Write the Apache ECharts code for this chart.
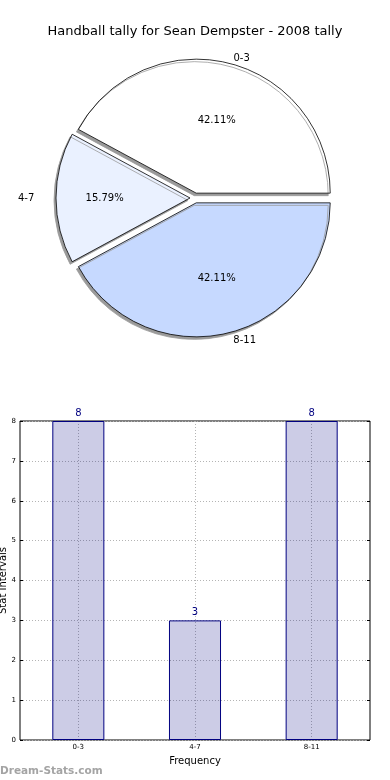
<!DOCTYPE html>
<html>
<head>
<meta charset="utf-8">
<script src="https://cdn.jsdelivr.net/npm/echarts@6/dist/echarts.min.js"></script>
<style>
html,body{margin:0;padding:0;background:#fff;}
#main{width:390px;height:780px;}
</style>
</head>
<body>
<div id="main"></div>
<script>
// ---- data ----
const titleText = 'Handball tally for Sean Dempster - 2008 tally';
const pieCategories = ['0-3', '4-7', '8-11'];
const pieValues = [8, 3, 8];
const barCategories = ['0-3', '4-7', '8-11'];
const barValues = [8, 3, 8];
const yAxisName = 'Stat Intervals';
const xAxisName = 'Frequency';
const watermark = 'Dream-Stats.com';

// ---- styles ----
const sliceColors = ['#ffffff', '#eaf1ff', '#c6d9ff'];
const font = 'DejaVu Sans';
const pieCenter = [195, 198];
const R = 134;
const explode = 5;
// label nudges (matplotlib draws an elliptical pie; names are left/right aligned)
const namePad = [[0, 0, 0, 17], [0, 27, 0, 0], [0, 0, 0, 23]];
const nameShiftY = [11, 0, -8];
const pctPad = [[0, 0, 0, 0], [0, 4, 0, 0], [0, 0, 0, 0]];
const pctShiftY = [8, 0, -5];

const chart = echarts.init(document.getElementById('main'), null, {renderer: 'canvas'});

const total = pieValues.reduce((a, b) => a + b, 0);

function shifted(text, dy) {
  if (dy > 0) return '{g' + Math.round(dy * 2) + '|}\n{t|' + text + '}';
  if (dy < 0) return '{t|' + text + '}\n{g' + Math.round(-dy * 2) + '|}';
  return '{t|' + text + '}';
}
function richFor(shifts) {
  const r = {t: {fontFamily: font, fontSize: 10, color: '#000', lineHeight: 12}};
  shifts.forEach(s => {
    const h = Math.round(Math.abs(s) * 2);
    if (h) r['g' + h] = {lineHeight: h, height: h, fontSize: 1};
  });
  return r;
}

const mainPie = pieCategories.map((c, i) => ({
  name: c, value: pieValues[i], selected: true,
  itemStyle: {color: sliceColors[i]}
}));
const pctPie = pieCategories.map((c, i) => ({
  name: c, value: pieValues[i], selected: true,
  label: {padding: pctPad[i], formatter: shifted((pieValues[i] / total * 100).toFixed(2) + '%', pctShiftY[i])}
}));
const namePie = pieCategories.map((c, i) => ({
  name: c, value: pieValues[i], selected: true,
  label: {padding: namePad[i], formatter: shifted(c, nameShiftY[i])}
}));

const commonPie = {
  type: 'pie',
  center: pieCenter,
  startAngle: 0,
  clockwise: false,
  selectedMode: 'multiple',
  selectedOffset: explode,
  avoidLabelOverlap: false,
  labelLine: {show: false},
  emphasis: {disabled: true},
  animation: false
};

const option = {
  animation: false,
  backgroundColor: '#ffffff',
  title: [
    {
      text: titleText, left: 'center', top: 20,
      textStyle: {fontFamily: font, fontSize: 13, fontWeight: 'normal', color: '#000'}
    },
    {
      text: watermark, left: 0, bottom: 3, padding: 0,
      textStyle: {fontFamily: font, fontSize: 10.5, fontWeight: 'bold', color: '#a4a4a4'}
    }
  ],
  grid: {
    left: 20, right: 20, top: 421, bottom: 40,
    outerBoundsMode: 'none',
    containLabel: false,
    show: true, borderColor: '#000', borderWidth: 1, backgroundColor: 'transparent'
  },
  xAxis: {
    type: 'category',
    data: barCategories,
    name: xAxisName,
    nameLocation: 'middle',
    nameGap: 16,
    nameMoveOverlap: false,
    nameTextStyle: {fontFamily: font, fontSize: 10, color: '#000'},
    axisLine: {show: false},
    axisTick: {show: false},
    axisLabel: {fontFamily: font, fontSize: 7, color: '#000', margin: 4},
    splitLine: {show: true, alignWithLabel: true, lineStyle: {color: '#b4b4b4', type: [1, 2], width: 1}}
  },
  yAxis: [
    {
      type: 'value',
      min: 0, max: 8, interval: 1,
      name: yAxisName,
      nameLocation: 'middle',
      nameGap: 12,
      nameMoveOverlap: false,
      nameTextStyle: {fontFamily: font, fontSize: 10, color: '#000'},
      axisLine: {show: false},
      axisTick: {show: true, inside: true, length: 3, lineStyle: {color: '#000'}},
      axisLabel: {fontFamily: font, fontSize: 7, color: '#000', margin: 4},
      splitLine: {show: true, lineStyle: {color: '#b4b4b4', type: [1, 2], width: 1}}
    },
    {
      type: 'value', position: 'right',
      min: 0, max: 8, interval: 1,
      axisLine: {show: false},
      axisTick: {show: true, inside: true, length: 3, lineStyle: {color: '#000'}},
      axisLabel: {show: false},
      splitLine: {show: false}
    }
  ],
  series: [
    Object.assign({}, commonPie, {
      name: 'slices',
      radius: [0, R],
      data: mainPie,
      label: {show: false},
      itemStyle: {
        borderColor: '#000', borderWidth: 0.8,
        shadowColor: '#9a9a9a', shadowBlur: 0, shadowOffsetX: -2, shadowOffsetY: 2.5
      }
    }),
    Object.assign({}, commonPie, {
      name: 'pct',
      radius: [0, R * 1.2],
      data: pctPie,
      silent: true,
      itemStyle: {color: 'rgba(0,0,0,0)', borderWidth: 0},
      label: {show: true, position: 'inside', rich: richFor(pctShiftY), fontFamily: font, fontSize: 10, color: '#000'}
    }),
    Object.assign({}, commonPie, {
      name: 'names',
      radius: [0, R * 2.2],
      data: namePie,
      silent: true,
      itemStyle: {color: 'rgba(0,0,0,0)', borderWidth: 0},
      label: {show: true, position: 'inside', rich: richFor(nameShiftY), fontFamily: font, fontSize: 10, color: '#000'}
    }),
    {
      type: 'bar',
      data: barValues,
      barWidth: '44.6%',
      z: 1,
      itemStyle: {color: 'rgba(0,0,128,0.2)', borderColor: '#000080', borderWidth: 1},
      label: {show: true, position: 'top', distance: 3, fontFamily: font, fontSize: 10, color: '#000080'},
      emphasis: {disabled: true}
    }
  ]
};

chart.setOption(option);
</script>
</body>
</html>
